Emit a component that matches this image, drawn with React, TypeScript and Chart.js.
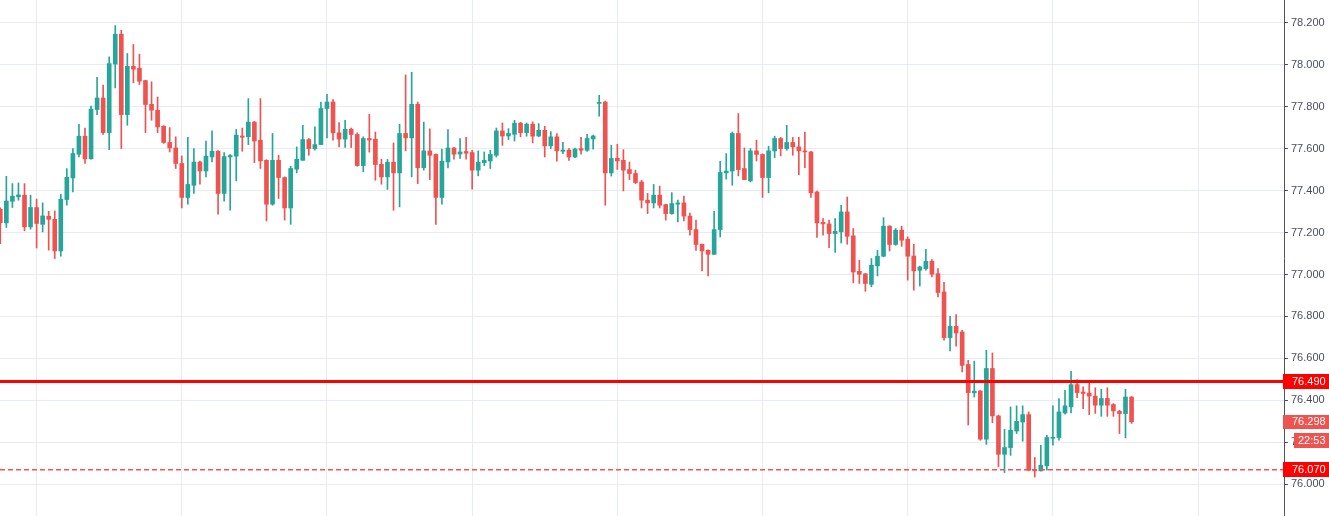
import React, { useEffect, useRef } from 'react';
import { Chart, registerables } from 'chart.js';

Chart.register(...registerables);

// Hourly candles (index = hour)
const opens = [
  77.311, 77.246, 77.349, 77.370, 77.378, 77.227, 77.319, 77.239, 77.277, 77.263,
  77.112, 77.357, 77.460, 77.573, 77.659, 77.551, 77.786, 77.841, 77.676, 78.003,
  78.145, 77.762, 77.992, 77.983, 77.924, 77.811, 77.783, 77.706, 77.629, 77.603,
  77.529, 77.367, 77.425, 77.536, 77.493, 77.560, 77.587, 77.386, 77.560, 77.564,
  77.660, 77.656, 77.726, 77.640, 77.544, 77.335, 77.544, 77.462, 77.317, 77.502,
  77.544, 77.643, 77.600, 77.619, 77.791, 77.822, 77.675, 77.645, 77.692, 77.667,
  77.519, 77.648, 77.645, 77.525, 77.465, 77.535, 77.484, 77.672, 77.651, 77.811,
  77.509, 77.589, 77.572, 77.367, 77.536, 77.603, 77.574, 77.586, 77.581, 77.497,
  77.533, 77.541, 77.568, 77.684, 77.660, 77.668, 77.721, 77.676, 77.716, 77.660,
  77.687, 77.613, 77.656, 77.587, 77.593, 77.560, 77.600, 77.592, 77.646, 77.815,
  77.822, 77.484, 77.554, 77.544, 77.500, 77.481, 77.441, 77.354, 77.341, 77.378,
  77.333, 77.290, 77.335, 77.341, 77.278, 77.214, 77.144, 77.115, 77.096, 77.214,
  77.484, 77.493, 77.672, 77.505, 77.446, 77.589, 77.572, 77.462, 77.589, 77.648,
  77.600, 77.629, 77.608, 77.589, 77.584, 77.393, 77.248, 77.241, 77.195, 77.203,
  77.298, 77.184, 77.015, 77.003, 76.953, 77.041, 77.087, 77.230, 77.143, 77.211,
  77.168, 77.088, 77.020, 77.028, 77.063, 77.004, 76.917, 76.699, 76.753, 76.726,
  76.571, 76.436, 76.445, 76.215, 76.552, 76.326, 76.143, 76.175, 76.254, 76.297,
  76.332, 76.070, 76.064, 76.088, 76.219, 76.223, 76.340, 76.369, 76.475, 76.440,
  76.435, 76.420, 76.377, 76.409, 76.380, 76.348, 76.337, 76.416,
];
const highs = [
  77.318, 77.468, 77.433, 77.436, 77.433, 77.378, 77.359, 77.341, 77.301, 77.303,
  77.382, 77.505, 77.600, 77.716, 77.698, 77.802, 77.939, 77.902, 78.037, 78.186,
  78.164, 78.053, 78.096, 78.050, 77.926, 77.918, 77.846, 77.710, 77.700, 77.656,
  77.565, 77.653, 77.600, 77.540, 77.636, 77.684, 77.590, 77.581, 77.572, 77.691,
  77.698, 77.838, 77.730, 77.838, 77.547, 77.672, 77.568, 77.465, 77.516, 77.608,
  77.711, 77.648, 77.703, 77.822, 77.858, 77.834, 77.724, 77.735, 77.698, 77.675,
  77.656, 77.764, 77.679, 77.549, 77.548, 77.627, 77.716, 77.951, 77.964, 77.822,
  77.726, 77.694, 77.575, 77.597, 77.691, 77.605, 77.648, 77.653, 77.592, 77.589,
  77.584, 77.592, 77.698, 77.722, 77.695, 77.735, 77.725, 77.722, 77.727, 77.719,
  77.706, 77.681, 77.672, 77.630, 77.600, 77.602, 77.653, 77.668, 77.664, 77.854,
  77.826, 77.616, 77.621, 77.595, 77.536, 77.497, 77.449, 77.386, 77.429, 77.421,
  77.335, 77.390, 77.354, 77.373, 77.293, 77.259, 77.145, 77.118, 77.301, 77.540,
  77.576, 77.679, 77.767, 77.603, 77.600, 77.640, 77.575, 77.611, 77.659, 77.653,
  77.711, 77.653, 77.653, 77.679, 77.587, 77.397, 77.266, 77.259, 77.266, 77.330,
  77.369, 77.219, 77.068, 77.005, 77.076, 77.115, 77.271, 77.233, 77.219, 77.230,
  77.179, 77.144, 77.040, 77.120, 77.071, 77.028, 76.962, 76.801, 76.809, 76.734,
  76.591, 76.587, 76.447, 76.639, 76.626, 76.330, 76.262, 76.369, 76.374, 76.374,
  76.345, 76.128, 76.186, 76.234, 76.374, 76.409, 76.448, 76.539, 76.499, 76.464,
  76.483, 76.460, 76.453, 76.460, 76.385, 76.353, 76.453, 76.418,
];
const lows = [
  77.147, 77.224, 77.319, 77.354, 77.208, 77.216, 77.126, 77.203, 77.116, 77.076,
  77.087, 77.330, 77.393, 77.560, 77.529, 77.549, 77.762, 77.668, 77.595, 77.889,
  77.600, 77.711, 77.913, 77.905, 77.676, 77.735, 77.676, 77.625, 77.584, 77.505,
  77.317, 77.335, 77.386, 77.430, 77.465, 77.536, 77.287, 77.349, 77.306, 77.446,
  77.587, 77.619, 77.533, 77.505, 77.255, 77.330, 77.362, 77.259, 77.239, 77.484,
  77.544, 77.568, 77.592, 77.618, 77.651, 77.640, 77.608, 77.605, 77.605, 77.516,
  77.489, 77.583, 77.449, 77.430, 77.405, 77.306, 77.322, 77.589, 77.465, 77.433,
  77.497, 77.452, 77.238, 77.335, 77.508, 77.549, 77.553, 77.549, 77.406, 77.470,
  77.519, 77.505, 77.560, 77.615, 77.643, 77.636, 77.656, 77.659, 77.627, 77.656,
  77.560, 77.600, 77.540, 77.576, 77.544, 77.557, 77.573, 77.587, 77.597, 77.754,
  77.330, 77.469, 77.500, 77.398, 77.452, 77.433, 77.317, 77.290, 77.317, 77.317,
  77.259, 77.287, 77.250, 77.255, 77.187, 77.115, 77.017, 76.993, 77.095, 77.179,
  77.454, 77.425, 77.470, 77.452, 77.441, 77.541, 77.367, 77.389, 77.557, 77.565,
  77.592, 77.568, 77.476, 77.509, 77.367, 77.176, 77.187, 77.128, 77.105, 77.150,
  77.144, 76.960, 76.957, 76.920, 76.941, 76.993, 77.084, 77.112, 77.139, 77.134,
  76.973, 76.925, 76.945, 77.020, 76.988, 76.893, 76.687, 76.636, 76.658, 76.536,
  76.283, 76.416, 76.210, 76.190, 76.293, 76.083, 76.056, 76.138, 76.242, 76.205,
  76.064, 76.035, 76.063, 76.067, 76.186, 76.210, 76.334, 76.340, 76.413, 76.361,
  76.332, 76.338, 76.324, 76.324, 76.324, 76.242, 76.221, 76.290,
];
const closes = [
  77.247, 77.350, 77.373, 77.379, 77.227, 77.319, 77.243, 77.279, 77.263, 77.112,
  77.359, 77.463, 77.576, 77.659, 77.551, 77.788, 77.841, 77.676, 78.005, 78.145,
  77.762, 77.992, 77.978, 77.921, 77.810, 77.783, 77.703, 77.629, 77.603, 77.529,
  77.367, 77.429, 77.536, 77.493, 77.564, 77.587, 77.386, 77.562, 77.567, 77.664,
  77.654, 77.726, 77.636, 77.541, 77.335, 77.544, 77.462, 77.317, 77.505, 77.549,
  77.643, 77.600, 77.619, 77.791, 77.822, 77.675, 77.645, 77.692, 77.667, 77.519,
  77.648, 77.641, 77.524, 77.465, 77.535, 77.484, 77.672, 77.651, 77.811, 77.509,
  77.589, 77.568, 77.367, 77.540, 77.603, 77.573, 77.584, 77.578, 77.497, 77.535,
  77.544, 77.572, 77.684, 77.660, 77.672, 77.721, 77.676, 77.716, 77.659, 77.687,
  77.613, 77.656, 77.589, 77.593, 77.560, 77.598, 77.592, 77.648, 77.660, 77.819,
  77.484, 77.553, 77.541, 77.497, 77.481, 77.438, 77.354, 77.341, 77.378, 77.330,
  77.290, 77.338, 77.341, 77.278, 77.214, 77.143, 77.112, 77.096, 77.214, 77.486,
  77.493, 77.672, 77.500, 77.452, 77.589, 77.572, 77.462, 77.589, 77.648, 77.600,
  77.629, 77.608, 77.589, 77.584, 77.389, 77.246, 77.241, 77.195, 77.206, 77.298,
  77.182, 77.012, 77.001, 76.957, 77.044, 77.087, 77.230, 77.143, 77.211, 77.163,
  77.087, 77.017, 77.036, 77.063, 77.001, 76.914, 76.699, 76.753, 76.721, 76.567,
  76.437, 76.444, 76.215, 76.552, 76.326, 76.143, 76.175, 76.258, 76.300, 76.332,
  76.067, 76.064, 76.091, 76.223, 76.224, 76.345, 76.374, 76.475, 76.437, 76.433,
  76.420, 76.377, 76.409, 76.377, 76.350, 76.337, 76.416, 76.298,
];

const priceTicks = [78.2, 78.0, 77.8, 77.6, 77.4, 77.2, 77.0, 76.8, 76.6, 76.4, 76.2, 76.0];
const dayGridIndices = [6, 30, 54, 78, 102, 126, 150, 174, 198];

const resistanceLevel = 76.49;
const supportLevel = 76.07;
const lastPrice = 76.298;
const countdownText = '22:53';

const UP = '#26a69a';
const DOWN = '#ef5350';
const GRID = '#e7ecf2';
const AXIS = '#50535e';
const FONT = "'Liberation Sans', Arial, sans-serif";

export default function App() {
  const ref = useRef<HTMLCanvasElement>(null);

  useEffect(() => {
    document.body.style.margin = '0';
    const canvas = ref.current;
    if (!canvas) return;

    const X_MIN = -0.05;
    const X_MAX = 212.2;

    const bodies = opens.map((o, i) => ({ x: i, y: [o, closes[i]] }));
    const wicks = opens.map((o, i) => ({ x: i, y: [lows[i], highs[i]] }));
    const colors = opens.map((o, i) => (closes[i] >= o ? UP : DOWN));

    const labelPlugin = {
      id: 'priceLabels',
      afterDraw(chart: any) {
        const { ctx, chartArea } = chart;
        const y = chart.scales.y;
        const W = chart.width;
        const left = chartArea.right;
        ctx.save();
        ctx.font = `11px ${FONT}`;
        ctx.textBaseline = 'middle';
        ctx.textAlign = 'left';
        const box = (val: number, bg: string, h: number) => {
          const py = y.getPixelForValue(val);
          ctx.fillStyle = bg;
          ctx.fillRect(left - 1, Math.round(py - h / 2), W - left + 1, h);
          ctx.fillStyle = '#ffffff';
          ctx.fillText(val.toFixed(3), left + 8, py + 0.5);
          return py;
        };
        box(resistanceLevel, '#ff0000', 15);
        box(supportLevel, '#ff0000', 15);
        const py = box(lastPrice, DOWN, 14);
        const top = Math.round(py + 11);
        ctx.fillStyle = DOWN;
        ctx.fillRect(left + 10, top, W - left - 10, 15);
        ctx.fillStyle = '#ffffff';
        ctx.fillText(countdownText, left + 14, top + 8);
        ctx.restore();
      },
    };

    const chart = new Chart(canvas, {
      type: 'bar',
      data: {
        datasets: [
          {
            type: 'line',
            data: [
              { x: X_MIN, y: resistanceLevel },
              { x: X_MAX, y: resistanceLevel },
            ],
            borderColor: '#ff0000',
            borderWidth: 3,
            pointRadius: 0,
            order: 0,
          } as any,
          {
            type: 'line',
            data: [
              { x: X_MIN, y: supportLevel },
              { x: X_MAX, y: supportLevel },
            ],
            borderColor: '#f55252',
            borderWidth: 1.5,
            borderDash: [5, 3],
            pointRadius: 0,
            order: 0,
          } as any,
          {
            type: 'bar',
            data: bodies,
            backgroundColor: colors,
            barThickness: 4,
            grouped: false,
            minBarLength: 1,
            borderWidth: 0,
            order: 1,
          } as any,
          {
            type: 'bar',
            data: wicks,
            backgroundColor: colors,
            barThickness: 1,
            grouped: false,
            borderWidth: 0,
            order: 2,
          } as any,
        ],
      },
      options: {
        responsive: false,
        maintainAspectRatio: false,
        animation: false,
        events: [],
        layout: { padding: 0, autoPadding: false },
        plugins: {
          legend: { display: false },
          tooltip: { enabled: false },
        },
        scales: {
          x: {
            type: 'linear',
            min: X_MIN,
            max: X_MAX,
            offset: false,
            grid: { color: GRID, offset: false, drawTicks: false },
            border: { display: false },
            ticks: { display: false },
            afterBuildTicks: (s: any) => {
              s.ticks = dayGridIndices.map((v) => ({ value: v }));
            },
            afterFit: (s: any) => {
              s.height = 0;
              s.paddingLeft = 0;
              s.paddingRight = 0;
            },
          },
          y: {
            type: 'linear',
            position: 'right',
            min: 75.849,
            max: 78.308,
            grid: { color: GRID, tickLength: 4, tickColor: AXIS },
            border: { display: true, color: AXIS },
            ticks: {
              color: '#4a4e59',
              font: { size: 11, family: FONT },
              padding: 3,
              callback: (v: any) => Number(v).toFixed(3),
            },
            afterBuildTicks: (s: any) => {
              s.ticks = priceTicks.map((v) => ({ value: v }));
            },
            afterFit: (s: any) => {
              s.width = 45;
              s.paddingTop = 0;
              s.paddingBottom = 0;
            },
          },
        },
      } as any,
      plugins: [labelPlugin],
    });

    return () => chart.destroy();
  }, []);

  return <canvas ref={ref} width={1329} height={516} style={{ display: 'block' }} />;
}
